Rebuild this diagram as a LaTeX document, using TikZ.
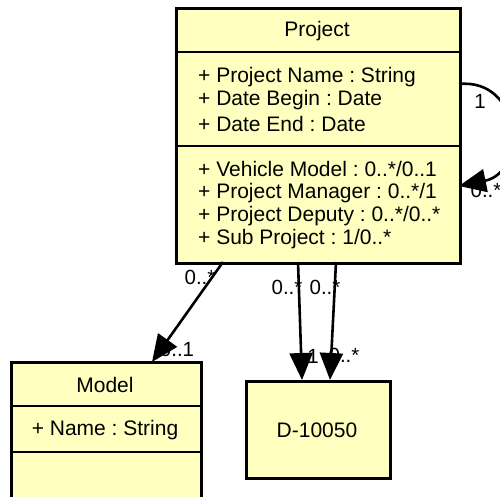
\documentclass[tikz,border=0pt]{standalone}
\usepackage{fontspec}
\setmainfont{Liberation Sans}
\frenchspacing
\usetikzlibrary{arrows.meta}
\definecolor{umlfill}{RGB}{255,255,192}
\tikzset{
  umlbox/.style={draw=black, line width=2.6pt, fill=umlfill},
  sepline/.style={draw=black, line width=2.6pt},
  txt/.style={inner sep=0pt, font=\fontsize{21}{23}\selectfont},
  lbl/.style={inner sep=0pt, font=\fontsize{20.5}{23}\selectfont},
  assoc/.style={draw=black, line width=2.6pt, -{Triangle[length=27pt,width=23pt]}},
}
\begin{document}
\begin{tikzpicture}[x=1pt,y=-1pt]
\useasboundingbox (0,0) rectangle (500,497);
\begin{scope}
\clip (0,0) rectangle (500,497);
% Project class
\node[umlbox, minimum width=284pt, minimum height=255pt, anchor=north west, inner sep=0pt] (project) at (175,7) {};
\draw[sepline] (175,52) -- (459,52);
\draw[sepline] (175,146) -- (459,146);
\node[txt] (ptitle) at (317,31) {Project};
\node[txt, anchor=west] (pa1) at (198,77) {+ Project Name : String};
\node[txt, anchor=west] (pa2) at (198,100) {+ Date Begin : Date};
\node[txt, anchor=west] (pa3) at (198,124) {+ Date End : Date};
\node[txt, anchor=west] (po1) at (198,169) {+ Vehicle Model : 0..*/0..1};
\node[txt, anchor=west] (po2) at (198,193) {+ Project Manager : 0..*/1};
\node[txt, anchor=west] (po3) at (198,216) {+ Project Deputy : 0..*/0..*};
\node[txt, anchor=west] (po4) at (198,239) {+ Sub Project : 1/0..*};
% Model class
\node[umlbox, minimum width=190pt, minimum height=150pt, anchor=north west, inner sep=0pt] (model) at (10,361) {};
\draw[sepline] (10,406) -- (200,406);
\draw[sepline] (10,452) -- (200,452);
\node[txt] (mtitle) at (105,385) {Model};
\node[txt] (ma1) at (105,430) {+ Name : String};
% D-10050
\node[umlbox, minimum width=144pt, minimum height=97pt, anchor=north west, inner sep=0pt] (dbox) at (245,380) {};
\node[txt] (dtext) at (317,430) {D-10050};
% labels
\node[lbl] (l1) at (200,277) {0..*};
\node[lbl] (l2) at (177,349) {0..1};
\node[lbl] (l3) at (287,287) {0..*};
\node[lbl] (l4) at (325,287) {0..*};
\node[lbl] (l5) at (313,356) {1};
\node[lbl] (l6) at (344,355) {0..*};
\node[lbl] (l7) at (480,101) {1};
\node[lbl] (l8) at (486,190) {0..*};
% connector endpoints
\coordinate (s1) at (223,262);
\coordinate (e1) at (152,362);
\coordinate (s2) at (298,262);
\coordinate (e2) at (302,380);
\coordinate (s3) at (336,262);
\coordinate (e3) at (330,380);
\coordinate (s4) at (459,84);
\coordinate (e4) at (459,186);
\draw[assoc] (s1) -- (e1);
\draw[assoc] (s2) -- (e2);
\draw[assoc] (s3) -- (e3);
\draw[assoc] (s4) .. controls (522,78) and (528,172) .. (e4);
\end{scope}
\end{tikzpicture}
\end{document}
